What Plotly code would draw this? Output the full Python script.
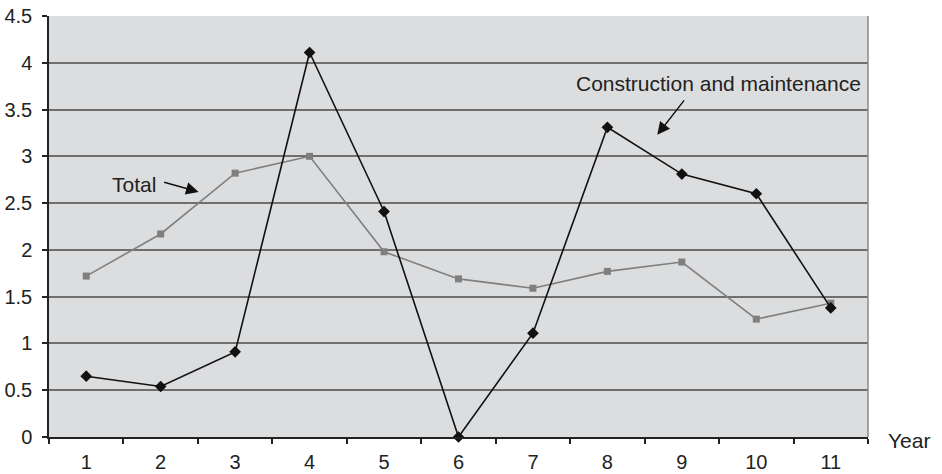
import plotly.graph_objects as go

years = ["1", "2", "3", "4", "5", "6", "7", "8", "9", "10", "11"]
construction = [0.65, 0.54, 0.91, 4.11, 2.41, 0.0, 1.11, 3.31, 2.81, 2.60, 1.38]
total = [1.72, 2.17, 2.82, 3.00, 1.98, 1.69, 1.59, 1.77, 1.87, 1.26, 1.43]
y_ticks = [0, 0.5, 1, 1.5, 2, 2.5, 3, 3.5, 4, 4.5]
y_tick_text = ["0", "0.5", "1", "1.5", "2", "2.5", "3", "3.5", "4", "4.5"]

FONT = "Liberation Sans, Arial, sans-serif"
TEXT = "#222222"

fig = go.Figure()

fig.add_trace(go.Scatter(
    x=years, y=total, mode="lines+markers", name="Total",
    line=dict(color="#7f7f7f", width=1.6),
    marker=dict(symbol="square", size=7, color="#7f7f7f"),
    cliponaxis=False,
))
fig.add_trace(go.Scatter(
    x=years, y=construction, mode="lines+markers", name="Construction and maintenance",
    line=dict(color="#111111", width=1.6),
    marker=dict(symbol="diamond", size=9, color="#111111"),
    cliponaxis=False,
))

fig.update_layout(
    width=942, height=474,
    margin=dict(l=49, r=74, t=16, b=37, autoexpand=False),
    paper_bgcolor="white",
    plot_bgcolor="#dcdddf",
    showlegend=False,
    font=dict(family=FONT, size=20, color=TEXT),
    xaxis=dict(
        type="category",
        categoryorder="array", categoryarray=years,
        range=[-0.5, 10.5],
        tickson="boundaries",
        ticks="outside", ticklen=5, tickwidth=1.5, tickcolor=TEXT,
        showline=True, linecolor=TEXT, linewidth=1.5,
        showgrid=False, zeroline=False,
        automargin=False,
        ticklabelstandoff=6,
        tickfont=dict(family=FONT, size=20, color=TEXT),
    ),
    yaxis=dict(
        range=[0, 4.5],
        tickvals=y_ticks, ticktext=y_tick_text,
        ticks="outside", ticklen=5, tickwidth=1.5, tickcolor=TEXT,
        showline=True, linecolor=TEXT, linewidth=1.5,
        showgrid=True, gridcolor="#6f6f6f", gridwidth=1.5,
        zeroline=False,
        automargin=False,
        ticklabelstandoff=6,
        tickfont=dict(family=FONT, size=20, color=TEXT),
    ),
)

# right-hand border of the plotting area
fig.add_shape(type="line", xref="paper", yref="paper", x0=1, x1=1, y0=0, y1=1,
              line=dict(color="#8a8a8a", width=1.5))

# series labels with arrows (x given in category-index units)
fig.add_annotation(
    x=1.51, y=2.62, xref="x", yref="y",
    ax=-36, ay=-10, axref="pixel", ayref="pixel",
    text="", showarrow=True, arrowhead=2, arrowsize=1.8, arrowwidth=1.4, arrowcolor="#111111",
)
fig.add_annotation(
    x=0.96, y=2.70, xref="x", yref="y",
    xanchor="right", yanchor="middle",
    text="Total", showarrow=False,
    font=dict(family=FONT, size=21, color=TEXT),
)
fig.add_annotation(
    x=7.67, y=3.23, xref="x", yref="y",
    ax=28, ay=-36, axref="pixel", ayref="pixel",
    text="", showarrow=True, arrowhead=2, arrowsize=1.8, arrowwidth=1.4, arrowcolor="#111111",
)
fig.add_annotation(
    x=8.49, y=3.78, xref="x", yref="y",
    xanchor="center", yanchor="middle",
    text="Construction and maintenance", showarrow=False,
    font=dict(family=FONT, size=21, color=TEXT),
)

# axis name to the right of the category axis
fig.add_annotation(
    x=1.0, y=0, xref="paper", yref="paper",
    xanchor="left", yanchor="middle", xshift=18, yshift=-3,
    text="Year", showarrow=False,
    font=dict(family=FONT, size=21, color=TEXT),
)

fig.write_html("out.html")
